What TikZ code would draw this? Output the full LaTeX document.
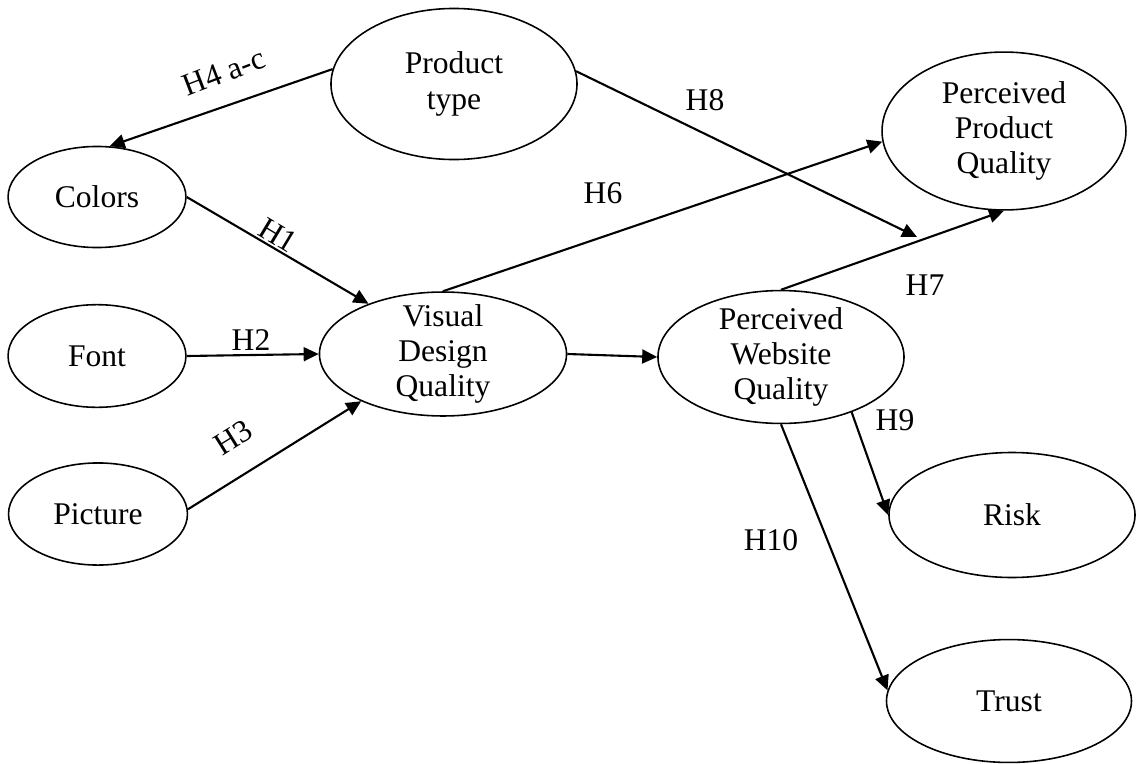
\documentclass[tikz,border=0pt]{standalone}
\usepackage{fontspec}
\setmainfont{Liberation Serif}
\usetikzlibrary{arrows.meta,shapes.geometric}

\begin{document}
\begin{tikzpicture}[
  x=0.38pt, y=-0.38pt,
  var/.style={ellipse, draw=black, line width=0.6pt, align=center, inner sep=-6pt, font=\fontsize{12}{13.4}\selectfont},
  arrow/.style={-{Triangle[length=5.7pt,width=5.3pt]}, line width=0.8pt, draw=black},
  hyp/.style={font=\fontsize{12}{13.4}\selectfont, inner sep=0pt}
]
\useasboundingbox (0,0) rectangle (1140,764);

\node[var, minimum width=93.5pt, minimum height=57.4pt] (prod) at (454,84) {Product\\type};
\node[var, minimum width=67.6pt, minimum height=38.4pt] (colors) at (97,197) {Colors};
\node[var, minimum width=67.6pt, minimum height=39pt] (font) at (97,356) {Font};
\node[var, minimum width=68pt, minimum height=38.8pt] (pic) at (98,514) {Picture};
\node[var, minimum width=93.9pt, minimum height=47.1pt] (vis) at (443,354) {Visual\\Design\\Quality};
\node[var, minimum width=93.5pt, minimum height=50.5pt] (pwq) at (781,357) {Perceived\\Website\\Quality};
\node[var, minimum width=92.7pt, minimum height=60pt] (ppq) at (1004,131) {Perceived\\Product\\Quality};
\node[var, minimum width=93.5pt, minimum height=47.5pt] (risk) at (1012,515) {Risk};
\node[var, minimum width=93.1pt, minimum height=46.7pt] (trust) at (1009,701) {Trust};
\coordinate (h8end) at (917,237);

\draw[arrow] (prod.173) -- (colors.76);
\draw[arrow] (colors.east) -- (vis.146);
\draw[arrow] (font.east) -- (vis.west);
\draw[arrow] (pic.3) -- (vis.210);
\draw[arrow] (vis.north) -- (ppq.185);
\draw[arrow] (prod.6) -- (h8end);
\draw[arrow] (pwq.north) -- (ppq.south);
\draw[arrow] (vis.east) -- (pwq.west);
\draw[arrow] (pwq.-38) -- (risk.west);
\draw[arrow] (pwq.south) -- (trust.175);

\node[hyp, rotate=21] (h4) at (224,72) {H4 a-c};
\node[hyp, rotate=-31] (h1) at (278,235) {H1};
\node[hyp] (h2) at (251,340) {H2};
\node[hyp, rotate=32] (h3) at (233,438) {H3};
\node[hyp] (h6) at (603,193) {H6};
\node[hyp] (h8) at (705,100) {H8};
\node[hyp] (h7) at (925,285) {H7};
\node[hyp] (h9) at (895,420) {H9};
\node[hyp] (h10) at (771,540) {H10};
\end{tikzpicture}
\end{document}
